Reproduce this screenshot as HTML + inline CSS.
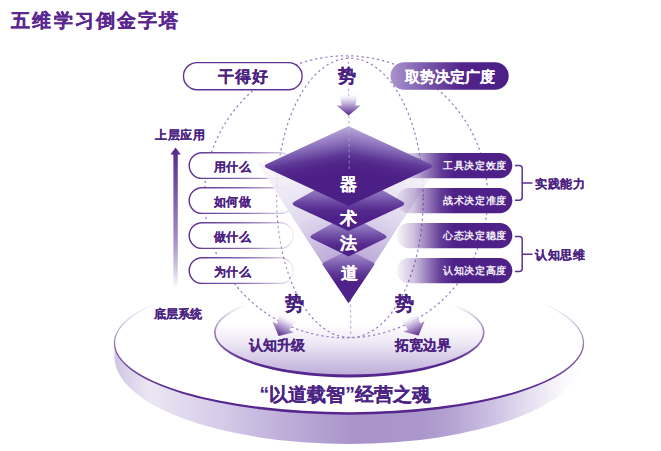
<!DOCTYPE html>
<html><head><meta charset="utf-8">
<style>
*{margin:0;padding:0;box-sizing:border-box}
html,body{width:661px;height:451px;background:#fff;overflow:hidden}
body{position:relative;font-family:"Liberation Sans",sans-serif;font-weight:bold;color:#4a2181}
.t{position:absolute;white-space:nowrap;line-height:1;-webkit-text-stroke:0.12px currentColor}
svg{position:absolute;left:0;top:0}
</style></head><body>
<svg width="661" height="451" viewBox="0 0 661 451"><defs><linearGradient id="gTopPill" gradientUnits="userSpaceOnUse" x1="390" y1="0" x2="509" y2="0"><stop offset="0" stop-color="#aa95cd"/><stop offset="0.3" stop-color="#7a59ad"/><stop offset="0.6" stop-color="#52248b"/><stop offset="1" stop-color="#4b1f86"/></linearGradient><linearGradient id="gArrowDown" x1="0" y1="0" x2="0" y2="1"><stop offset="0" stop-color="#ffffff" stop-opacity="0"/><stop offset="0.35" stop-color="#d8cde9"/><stop offset="1" stop-color="#55268e"/></linearGradient><linearGradient id="gBar" gradientUnits="userSpaceOnUse" x1="396" y1="0" x2="454" y2="0"><stop offset="0" stop-color="#4e2188" stop-opacity="0.03"/><stop offset="0.31" stop-color="#4e2188" stop-opacity="0.28"/><stop offset="0.55" stop-color="#4e2188" stop-opacity="0.6"/><stop offset="0.776" stop-color="#4e2188" stop-opacity="0.88"/><stop offset="1" stop-color="#4e2188"/></linearGradient><linearGradient id="gPill" gradientUnits="userSpaceOnUse" x1="189" y1="0" x2="293" y2="0"><stop offset="0" stop-color="#5b2d8f"/><stop offset="0.45" stop-color="#7d62ad"/><stop offset="1" stop-color="#5b2d8f" stop-opacity="0.08"/></linearGradient><linearGradient id="gPillFill" gradientUnits="userSpaceOnUse" x1="189" y1="0" x2="293" y2="0"><stop offset="0" stop-color="#fff"/><stop offset="0.55" stop-color="#fff"/><stop offset="1" stop-color="#fff" stop-opacity="0"/></linearGradient><linearGradient id="gUp" gradientUnits="userSpaceOnUse" x1="0" y1="148" x2="0" y2="288"><stop offset="0" stop-color="#55268e"/><stop offset="0.5" stop-color="#8f77bb"/><stop offset="1" stop-color="#55268e" stop-opacity="0"/></linearGradient><linearGradient id="gBand" gradientUnits="userSpaceOnUse" x1="114" y1="0" x2="584" y2="0"><stop offset="0.0" stop-color="#d0c4e4"/><stop offset="0.0149" stop-color="#d6cce8"/><stop offset="0.0766" stop-color="#ebe6f3"/><stop offset="0.2277" stop-color="#d6cbe8"/><stop offset="0.3553" stop-color="#bfb0da"/><stop offset="0.5128" stop-color="#a994ca"/><stop offset="0.6511" stop-color="#ab97cb"/><stop offset="0.7149" stop-color="#b4a2d2"/><stop offset="0.8" stop-color="#cbbfe2"/><stop offset="0.8851" stop-color="#e6e0f0"/><stop offset="0.9596" stop-color="#fbfafd"/><stop offset="1.0" stop-color="#ffffff"/></linearGradient><linearGradient id="gBigStroke" gradientUnits="userSpaceOnUse" x1="0" y1="303" x2="0" y2="395"><stop offset="0" stop-color="#5b2d8f" stop-opacity="0"/><stop offset="0.25" stop-color="#5b2d8f" stop-opacity="0.3"/><stop offset="0.5" stop-color="#5b2d8f" stop-opacity="0.75"/><stop offset="1" stop-color="#55268e"/></linearGradient><linearGradient id="gInnerFill" gradientUnits="userSpaceOnUse" x1="0" y1="300" x2="0" y2="377"><stop offset="0" stop-color="#ffffff"/><stop offset="0.3" stop-color="#ffffff"/><stop offset="0.55" stop-color="#eee9f5"/><stop offset="1" stop-color="#bba9d7"/></linearGradient><linearGradient id="gInnerStroke" gradientUnits="userSpaceOnUse" x1="0" y1="305" x2="0" y2="365"><stop offset="0" stop-color="#5b2d8f" stop-opacity="0"/><stop offset="0.4" stop-color="#5b2d8f" stop-opacity="0.55"/><stop offset="1" stop-color="#55268e"/></linearGradient><radialGradient id="gBody" gradientUnits="userSpaceOnUse" cx="348.5" cy="300" r="150"><stop offset="0" stop-color="#8e73bd"/><stop offset="0.35" stop-color="#b9a6d7"/><stop offset="0.62" stop-color="#dcd3eb"/><stop offset="0.8" stop-color="#e9e3f3"/><stop offset="1" stop-color="#f5f2f9"/></radialGradient><linearGradient id="gL1" gradientUnits="userSpaceOnUse" x1="0" y1="126" x2="0" y2="206"><stop offset="0" stop-color="#b9a9d7"/><stop offset="0.15" stop-color="#a38cca"/><stop offset="0.3" stop-color="#8668b6"/><stop offset="0.4" stop-color="#6e4ba3"/><stop offset="0.5" stop-color="#55288d"/><stop offset="0.61" stop-color="#4f2289"/><stop offset="1" stop-color="#4b1f86"/></linearGradient><linearGradient id="gv0" gradientUnits="userSpaceOnUse" x1="0" y1="250" x2="0" y2="282"><stop offset="0.0" stop-color="#a690cb"/><stop offset="0.25" stop-color="#9479c1"/><stop offset="0.5" stop-color="#7657ab"/><stop offset="0.75" stop-color="#5d3596"/><stop offset="1.0" stop-color="#4f2289"/></linearGradient><linearGradient id="gv1" gradientUnits="userSpaceOnUse" x1="0" y1="222" x2="0" y2="251"><stop offset="0.0" stop-color="#a28bc9"/><stop offset="0.3103448275862069" stop-color="#8064b3"/><stop offset="0.5517241379310345" stop-color="#68449f"/><stop offset="0.7931034482758621" stop-color="#56298d"/><stop offset="1.0" stop-color="#4e2188"/></linearGradient><linearGradient id="gv2" gradientUnits="userSpaceOnUse" x1="0" y1="182" x2="0" y2="218"><stop offset="0.0" stop-color="#a28bc9"/><stop offset="0.3611111111111111" stop-color="#866ab7"/><stop offset="0.6111111111111112" stop-color="#65409d"/><stop offset="0.8055555555555556" stop-color="#55288d"/><stop offset="1.0" stop-color="#4e2188"/></linearGradient><clipPath id="cL1"><path d="M347.14 126.63 Q348.5 126 349.86 126.63 L429.81 163.69 Q434.8 166 429.81 168.31 L348.5 206 L267.19 168.31 Q262.2 166 267.19 163.69 Z"/></clipPath><linearGradient id="gL1l" gradientUnits="userSpaceOnUse" x1="348.5" y1="126" x2="356.5" y2="169"><stop offset="0" stop-color="#bbabd8"/><stop offset="0.3" stop-color="#9075bf"/><stop offset="0.5" stop-color="#7051a6"/><stop offset="0.62" stop-color="#5e3797"/><stop offset="0.78" stop-color="#52268b"/><stop offset="1" stop-color="#4c1f86"/></linearGradient><linearGradient id="gL1r" gradientUnits="userSpaceOnUse" x1="348.5" y1="126" x2="340.5" y2="169"><stop offset="0" stop-color="#bbabd8"/><stop offset="0.3" stop-color="#9075bf"/><stop offset="0.5" stop-color="#7051a6"/><stop offset="0.62" stop-color="#5e3797"/><stop offset="0.78" stop-color="#52268b"/><stop offset="1" stop-color="#4c1f86"/></linearGradient></defs><path d="M114.5 343 A234.5 70.4 0 0 0 583.5 343 L583.5 357 A234.5 87 0 0 1 114.5 357 Z" fill="url(#gBand)"/>
<ellipse cx="349" cy="343" rx="234.5" ry="70.4" fill="#fff"/>
<path fill-rule="evenodd" d="M113.85 343 A235.15 71.7 0 1 0 584.15 343 A235.15 71.7 0 1 0 113.85 343 Z M115.15 343 A233.85 69.1 0 1 0 582.85 343 A233.85 69.1 0 1 0 115.15 343 Z" fill="url(#gBigStroke)"/>
<ellipse cx="349.3" cy="332.5" rx="134.5" ry="43.5" fill="url(#gInnerFill)"/>
<path fill-rule="evenodd" d="M214 332.5 A135.3 44.95 0 1 0 484.6 332.5 A135.3 44.95 0 1 0 214 332.5 Z M215.6 332.5 A133.7 42.05 0 1 0 483 332.5 A133.7 42.05 0 1 0 215.6 332.5 Z" fill="url(#gInnerStroke)"/>
<g fill="none" stroke="#9a80c4" stroke-width="1.25" stroke-dasharray="2.3 2.9"><ellipse cx="346" cy="196.8" rx="141.6" ry="141"/><ellipse cx="349.9" cy="197.9" rx="73.3" ry="139.6"/></g>
<line x1="348.3" y1="56" x2="350.8" y2="338" stroke="#c0afdb" stroke-width="1.2" stroke-dasharray="2.6 2.8"/>
<rect x="183.5" y="62.6" width="118.6" height="27.2" rx="13.6" fill="#fff" stroke="#5f3193" stroke-width="1.4"/>
<rect x="390.5" y="62.3" width="118.2" height="27.5" rx="13.75" fill="url(#gTopPill)"/>
<path d="M339.2 93 L357.8 93 L355.4 105.4 L360.6 105.4 L348.6 115.6 L336.6 105.4 L341.8 105.4 Z" fill="url(#gArrowDown)"/>
<g fill="url(#gPillFill)" stroke="url(#gPill)" stroke-width="1.4"><rect x="189.2" y="152.8" width="104" height="25.6" rx="12.8"/><rect x="189.2" y="187.8" width="104" height="25.6" rx="12.8"/><rect x="189.2" y="222.8" width="104" height="25.6" rx="12.8"/><rect x="189.2" y="257.8" width="104" height="25.6" rx="12.8"/></g>
<path d="M257 162.5 L440 162.5 L348.5 303.5 Z" fill="url(#gBody)" fill-opacity="0.85"/>
<g fill="url(#gBar)"><rect x="396.5" y="153" width="115.8" height="25.2" rx="12.6"/><rect x="396.5" y="188" width="115.8" height="25.2" rx="12.6"/><rect x="396.5" y="223" width="115.8" height="25.2" rx="12.6"/><rect x="396.5" y="258" width="115.8" height="25.2" rx="12.6"/></g>
<path d="M348.5 250 L373.42 262.6 Q375.2 263.5 374.08 265.16 L348.5 303 L322.92 265.16 Q321.8 263.5 323.58 262.6 Z" fill="url(#gv0)"/>
<path d="M348.5 214.5 L384.43 234.38 Q388.8 236.8 384.3 238.99 L348.5 256.4 L312.7 238.99 Q308.2 236.8 312.57 234.38 Z" fill="url(#gv1)"/>
<path d="M348.5 171 L402.01 201.29 Q406.8 204 401.81 206.31 L348.5 231 L295.19 206.31 Q290.2 204 294.99 201.29 Z" fill="url(#gv2)"/>
<g clip-path="url(#cL1)"><rect x="255" y="120" width="94.1" height="90" fill="url(#gL1l)"/><rect x="348.5" y="120" width="95" height="90" fill="url(#gL1r)"/></g>
<line x1="349" y1="127" x2="349.3" y2="170" stroke="#c3b3dd" stroke-opacity="0.55" stroke-width="1.2" stroke-dasharray="3 2.6"/>
<path d="M339.2 93 L357.8 93 L355.4 105.4 L360.6 105.4 L348.6 115.6 L336.6 105.4 L341.8 105.4 Z" fill="url(#gArrowDown)" transform="translate(-70 220.5) rotate(26.6 348.6 115.6)"/>
<path d="M339.2 93 L357.8 93 L355.4 105.4 L360.6 105.4 L348.6 115.6 L336.6 105.4 L341.8 105.4 Z" fill="url(#gArrowDown)" transform="translate(70 220) rotate(-26.6 348.6 115.6)"/>
<path d="M515 165.6 H519.2 Q522.2 165.6 522.2 168.6 V197.2 Q522.2 200.2 519.2 200.2 H515 M522.2 182.9 H532.5" fill="none" stroke="#5e3192" stroke-width="1.5"/>
<path d="M515 236.6 H519.2 Q522.2 236.6 522.2 239.6 V268.6 Q522.2 271.6 519.2 271.6 H515 M522.2 254.2 H532.5" fill="none" stroke="#5e3192" stroke-width="1.5"/>
<path d="M173.4 154.5 H170.4 L175.6 147.6 L180.8 154.5 H177.8 V288 H173.4 Z" fill="url(#gUp)"/></svg>
<div class="t" style="left:11.4px;top:11.3px;font-size:19px;color:#5a2790;letter-spacing:2.08px;-webkit-text-stroke:0.25px currentColor">五维学习倒金字塔</div>
<div class="t" style="left:218.4px;top:68.8px;font-size:16px;letter-spacing:0.7px">干得好</div>
<div class="t" style="left:338px;top:67px;font-size:18.2px">势</div>
<div class="t" style="left:404.8px;top:68.7px;font-size:15px;color:#fff;-webkit-text-stroke:0.1px #fff">取势决定广度</div>
<div class="t" style="left:213.8px;top:160.6px;font-size:12px;letter-spacing:0.4px">用什么</div>
<div class="t" style="left:213.8px;top:195.6px;font-size:12px;letter-spacing:0.4px">如何做</div>
<div class="t" style="left:213.8px;top:230.6px;font-size:12px;letter-spacing:0.4px">做什么</div>
<div class="t" style="left:213.8px;top:265.6px;font-size:12px;letter-spacing:0.4px">为什么</div>
<div class="t" style="left:443px;top:160.9px;font-size:10px;color:#f4f0f9;letter-spacing:0.65px;-webkit-text-stroke:0">工具决定效度</div>
<div class="t" style="left:443px;top:195.9px;font-size:10px;color:#f4f0f9;letter-spacing:0.65px;-webkit-text-stroke:0">战术决定准度</div>
<div class="t" style="left:443px;top:230.9px;font-size:10px;color:#f4f0f9;letter-spacing:0.65px;-webkit-text-stroke:0">心态决定稳度</div>
<div class="t" style="left:443px;top:265.9px;font-size:10px;color:#f4f0f9;letter-spacing:0.65px;-webkit-text-stroke:0">认知决定高度</div>
<div class="t" style="left:535px;top:178px;font-size:12px;letter-spacing:0.6px">实践能力</div>
<div class="t" style="left:535px;top:248.8px;font-size:12px;letter-spacing:0.6px">认知思维</div>
<div class="t" style="left:155px;top:129px;font-size:12px;letter-spacing:0.7px">上层应用</div>
<div class="t" style="left:154px;top:308px;font-size:12.2px">底层系统</div>
<div class="t" style="left:340.2px;top:176.2px;font-size:17px;color:#fff">器</div>
<div class="t" style="left:340.2px;top:209.8px;font-size:17px;color:#fff">术</div>
<div class="t" style="left:340.2px;top:234.6px;font-size:17px;color:#fff">法</div>
<div class="t" style="left:340.6px;top:264.8px;font-size:17px;color:#fff">道</div>
<div class="t" style="left:285px;top:294.8px;font-size:18.5px">势</div>
<div class="t" style="left:394.6px;top:294.8px;font-size:18.5px">势</div>
<div class="t" style="left:249px;top:339px;font-size:13.6px">认知升级</div>
<div class="t" style="left:395.2px;top:339px;font-size:13.6px">拓宽边界</div>
<div class="t" style="left:259.5px;top:385px;font-size:19.3px;color:#4a2384;-webkit-text-stroke:0.1px currentColor">“以道载智”经营之魂</div>
</body></html>
